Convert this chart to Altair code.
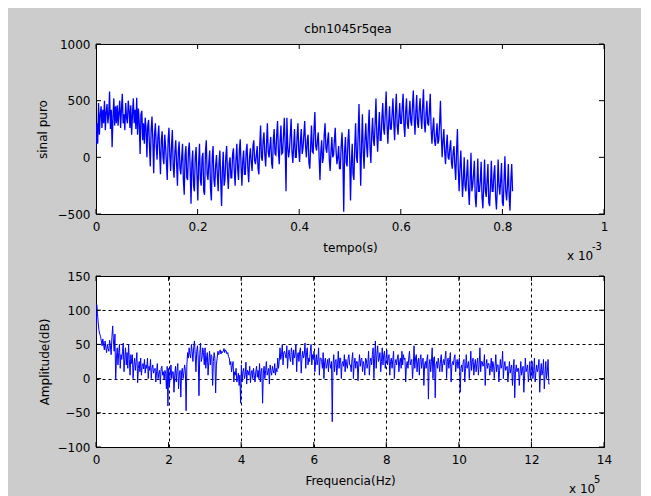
import altair as alt
import pandas as pd
import numpy as np

# ---------------- data ----------------
TITLE = "cbn1045r5qea"
T_END = 0.82      # last sample time, in units of 1e-3 s
sinal = [
    70, 300, 120, 480, 200, 380, 450, 260, 420, 300, 500, 240, 400, 470, 300, 380, 580, 250, 420, 90, 350, 520, 280, 450,
    300, 460, 280, 400, 500, 260, 420, 560, 300, 380, 240, 480, 350, 300, 500, 420, 260, 460, 200, 380, 520, 300, 420, 250,
    526, 200, 430, 300, 30, 380, 410, 150, 300, 120, 350, 250, 0, 280, 330, 100, -80, 240, 360, 150, -140, 200, 300, 100,
    -20, 180, 280, 50, -150, 150, 230, 0, -60, 200, 100, -50, -200, 150, 260, 20, -120, 100, 240, -80, -180, 50, 150, -50,
    -250, 50, 140, -100, -150, 0, 120, -200, -330, 20, 100, -180, -200, 60, 130, -100, -410, -50, 60, -250, -300, 0, 90, -150,
    -380, -50, 120, -200, -250, 0, 40, -300, -330, 50, 150, -150, -200, -50, 60, -280, -380, 0, 100, -200, -260, -80, 20, -150,
    -300, -50, 60, -200, -430, -100, 50, -250, -200, 0, 100, -150, -280, -50, 0, -180, -180, 30, 80, -120, -250, -20, 120, -100,
    -200, 60, 160, -80, -250, -30, 60, -150, -150, 50, 120, -100, -220, 0, 80, -50, -120, 100, 150, -30, -60, 20, 100, -100,
    -150, 100, 280, 0, -30, 150, 220, 20, -80, 120, 300, 50, 0, 100, 180, -50, -100, 150, 250, 30, 20, 200, 320, 50,
    -60, 150, 280, 30, 40, 200, 350, 80, -300, 350, 100, 0, 60, 200, 340, 50, -50, 100, 250, 0, 0, 180, 300, 60,
    -40, 150, 250, 30, 80, 200, 320, 100, 0, 150, 200, -50, -100, 100, 280, 50, 40, 250, 400, 100, 60, 150, 220, 0,
    -200, 50, 150, -50, 0, 200, 300, 80, 40, 150, 220, -20, -120, 50, 180, 0, 20, 150, 260, 50, -60, 0, 100, -100,
    -100, 100, 220, 0, -480, 50, 180, -50, -80, 150, 250, 0, -380, -50, 120, -150, -200, 100, 300, 0, -50, 200, 470, 100,
    -250, 100, 380, 50, -100, 150, 300, 100, 0, 250, 420, 80, -50, 200, 350, 150, 100, 300, 520, 200, 50, 250, 400, 150,
    150, 350, 480, 250, 200, 400, 580, 300, 120, 300, 450, 250, 250, 380, 520, 300, 150, 400, 560, 280, 200, 350, 480, 300,
    300, 450, 560, 280, 180, 400, 520, 300, 250, 380, 500, 320, 280, 450, 590, 350, 200, 400, 550, 300, 260, 420, 520, 350,
    250, 450, 600, 300, 220, 380, 500, 300, 280, 420, 560, 250, 120, 250, 350, 150, 100, 200, 300, 120, 150, 300, 500, 200,
    0, 150, 250, 50, -60, 100, 200, 0, -20, 80, 150, -50, -100, 50, 100, -80, -200, 50, 250, -100, -300, -100, 60, -150,
    -350, -200, 0, -250, -300, -150, -20, -280, -420, -200, 40, -300, -250, -150, -30, -350, -440, -250, -10, -300, -300, -200, -40, -350,
    -450, -250, -20, -300, -350, -200, -60, -400, -430, -250, -30, -300, -300, -150, -70, -350, -460, -280, -20, -250, -330, -200, -50, -400,
    -430, -200, 10, -300, -380, -250, -60, -350, -470, -200, -60, -300,
]

F_END = 12.5      # last frequency, in units of 1e5 Hz
amplitude = [
    60, 108, 95, 80, 70, 65, 62, 55, 48, 58, 50, 42, 55, 45, 38, 50, 44, 40, 56, 48, 35, 60, 77, 55,
    40, 65, -2, 30, 45, 20, 38, 50, 15, 35, 28, 40, 52, 10, 30, 45, 20, 38, 15, 50, 28, 5, 35, 22,
    35, 0, 20, 30, 12, 25, 38, -6, 15, 25, 10, 30, 5, 18, 22, 14, 28, 8, 20, 15, 30, 0, 18, 12,
    28, 0, 15, 20, 8, 12, 15, -5, 10, 22, 0, 8, 12, -8, 15, 18, 5, 10, -2, 12, 8, -15, 18, -40,
    15, -10, 5, 20, 0, 10, 10, -20, 5, 18, -5, 12, 22, -15, 5, 12, -27, 10, 15, 0, 8, 20, 12, -47,
    20, 38, 30, 45, 35, 30, 50, 40, 25, 45, 55, 35, 10, 40, 48, 30, -25, 35, 52, 25, 30, 45, 38, 20,
    45, 15, 30, 38, 5, 25, 40, 20, 35, 32, -10, 25, 38, 30, -21, 20, 30, 40, 35, 38, 42, 36, 40, 38,
    40, 44, 38, 42, 40, 36, 38, 32, 30, 20, 25, 10, 18, 25, -5, 10, 5, 15, -5, 0, 8, -10, 5, -36,
    20, -5, 10, 15, 0, 5, 24, -8, 12, 10, 5, 18, -6, 8, 12, 0, 15, 5, -5, 10, 18, 2, 12, 0,
    22, -5, 10, 15, -36, 8, 18, 0, 12, 25, 5, 10, 15, -8, 20, 10, 5, 18, 12, 8, 22, 5, 15, 10,
    30, 15, 25, 45, 28, 35, 50, 20, 38, 40, 35, 30, 48, 15, 35, 42, 30, 25, 45, 38, 20, 42, 30, 35,
    50, 10, 35, 38, 25, 40, 45, 8, 30, 40, 30, 35, 52, 15, 38, 45, 20, 30, 25, 40, 50, 20, 35, 28,
    40, 10, 25, 35, 20, 28, 45, 5, 30, 30, 25, 15, 38, 0, 25, 30, 15, 20, 28, 10, 30, 22, 15, 25,
    -63, 20, 35, 10, 25, 28, 5, 20, 40, 15, 30, 30, 0, 22, 25, 18, 35, 10, 28, 20, 15, 30, 35, 20,
    20, 10, 28, 38, 0, 22, 30, 15, 25, 25, -3, 20, 35, 18, 28, 30, 10, 25, 20, 5, 30, 28, 15, 22,
    40, 5, 25, 30, 20, 35, 45, 0, 30, 55, 15, 35, 48, 25, 30, 38, 10, 25, 45, 20, 35, 40, 15, 30,
    42, 20, 30, 35, 5, 25, 30, 15, 28, 40, 0, 22, 28, 20, 30, 35, 10, 25, 30, 15, 40, 20, 35, 28,
    30, -5, 20, 25, 15, 30, 40, 20, 25, 28, 0, 18, 48, 15, 30, 35, 10, 25, 30, 5, 28, 35, 15, 25,
    30, -10, 20, 25, 15, 28, 35, -30, 20, 28, 10, 25, 45, 0, 30, 32, -28, 20, 25, 15, 30, 20, 10, 28,
    35, 10, 22, 28, 20, 30, 40, 0, 25, 30, 15, 28, 38, -5, 20, 25, 20, 30, 35, 10, 22, 28, 15, 25,
    30, -20, 15, 20, 10, 25, 28, -5, 15, 35, 15, 20, 25, 0, 18, 40, 12, 25, 30, 5, 20, 28, 10, 22,
    30, 5, 20, 45, 10, 25, 25, 18, 20, 35, -10, 18, 28, 15, 22, 22, 5, 15, 30, 10, 25, 20, 0, 18,
    35, 10, 20, 20, -5, 12, 28, 15, 20, 40, 0, 18, 25, 12, 15, 18, -5, 10, 25, 8, 15, 20, -10, 12,
    28, -28, 10, 20, 10, 15, 15, -10, 8, 25, 5, 12, 18, -20, 5, 30, 10, 15, 20, -5, 8, 25, 0, 12,
    25, 0, 12, 30, -5, 10, 20, 10, 15, 28, -20, 8, 22, 5, 12, 28, -15, 5, 25, 0, 10, 28, -8, -8,
]

x1_ticks = [0, 0.2, 0.4, 0.6, 0.8, 1]
y1_ticks = [-500, 0, 500, 1000]
x2_ticks = [0, 2, 4, 6, 8, 10, 12, 14]
y2_ticks = [-100, -50, 0, 50, 100, 150]

# ---------------- layout ----------------
W, H1, H2 = 508, 170, 171
FONT = "DejaVu Sans"
TL = 5  # inward tick length

df1 = pd.DataFrame({"t": np.linspace(0, T_END, len(sinal)), "v": sinal})
df2 = pd.DataFrame({"f": np.linspace(0, F_END, len(amplitude)), "a": amplitude})


def panel(df, xf, yf, xdom, ydom, xticks, yticks, xtitle, ytitle, ytx, grid, xfmt, h,
          exp_x, exp_text, extra_bound_y, lw):
    xs = alt.Scale(domain=xdom, nice=False, zero=False)
    ys = alt.Scale(domain=ydom, nice=False, zero=False)
    xax = alt.Axis(values=xticks, format=xfmt, title=xtitle, grid=grid,
                   titleX=W / 2, titleY=33, titleAlign="center",
                   titleBaseline="middle")
    yax = alt.Axis(values=yticks, format="d", title=ytitle, grid=grid,
                   titleX=ytx, titleY=h / 2, titleAngle=270,
                   titleAlign="center", titleBaseline="middle")
    line = alt.Chart(df).mark_line(color="#0000ff", strokeWidth=lw, clip=True).encode(
        x=alt.X(f"{xf}:Q", scale=xs, axis=xax),
        y=alt.Y(f"{yf}:Q", scale=ys, axis=yax),
    )
    xt = pd.DataFrame({"xv": xticks})
    yt = pd.DataFrame({"yv": yticks})
    rx = alt.X("xv:Q", scale=xs, axis=xax)
    ry = alt.Y("yv:Q", scale=ys, axis=yax)
    tb = alt.Chart(xt).mark_rule(color="black", strokeWidth=1).encode(
        x=rx, y=alt.value(h), y2=alt.value(h - TL))
    tt = alt.Chart(xt).mark_rule(color="black", strokeWidth=1).encode(
        x=rx, y=alt.value(0), y2=alt.value(TL))
    tl = alt.Chart(yt).mark_rule(color="black", strokeWidth=1).encode(
        y=ry, x=alt.value(0), x2=alt.value(TL))
    tr = alt.Chart(yt).mark_rule(color="black", strokeWidth=1).encode(
        y=ry, x=alt.value(W), x2=alt.value(W - TL))
    base = alt.Chart(pd.DataFrame({"k": [0]}))
    x10 = base.mark_text(align="left", baseline="middle", font=FONT, fontSize=12,
                         color="black").encode(
        x=alt.value(exp_x), y=alt.value(h + 42), text=alt.value("x 10"))
    sup = base.mark_text(align="left", baseline="middle", font=FONT, fontSize=10,
                         color="black").encode(
        x=alt.value(exp_x + 25), y=alt.value(h + 33), text=alt.value(exp_text))
    bound = base.mark_rule(strokeOpacity=0, color="white").encode(
        x=alt.value(-87), x2=alt.value(W + 36),
        y=alt.value(extra_bound_y), y2=alt.value(extra_bound_y))
    return [line, tb, tt, tl, tr, x10, sup, bound]


top_layers = panel(df1, "t", "v", [0, 1], [-500, 1000], x1_ticks, y1_ticks,
                   "tempo(s)", "sinal puro", -53.5, False, "~g", H1,
                   471, "-3", -35, 1.3)
title_txt = alt.Chart(pd.DataFrame({"k": [0]})).mark_text(
    align="center", baseline="middle", font=FONT, fontSize=12, color="black"
).encode(x=alt.value(W / 2 - 2), y=alt.value(-15), text=alt.value(TITLE))
top = alt.layer(*top_layers, title_txt).properties(width=W, height=H1)

bot_layers = panel(df2, "f", "a", [0, 14], [-100, 150], x2_ticks, y2_ticks,
                   "Frequencia(Hz)", "Amplitude(dB)", -51.5, True, "d", H2,
                   473, "5", H2 + 50, 1)
bot = alt.layer(*bot_layers).properties(width=W, height=H2)

chart = alt.vconcat(top, bot, spacing=62, bounds="flush").properties(
    padding=0, background="#cccccc"
).configure_view(
    stroke="black", strokeWidth=1, fill="white"
).configure_axis(
    labelFont=FONT, labelFontSize=12, labelColor="black",
    titleFont=FONT, titleFontSize=12, titleColor="black", titleFontWeight="normal",
    ticks=False, domain=False, labelOverlap=False, labelFlush=False, labelBound=False,
    gridColor="black", gridDash=[3, 3], gridWidth=1, gridOpacity=1,
).configure_axisLeft(labelPadding=6).configure_axisBottom(labelPadding=7)

chart.save("out.html", embed_options={"renderer": "svg", "actions": False})
